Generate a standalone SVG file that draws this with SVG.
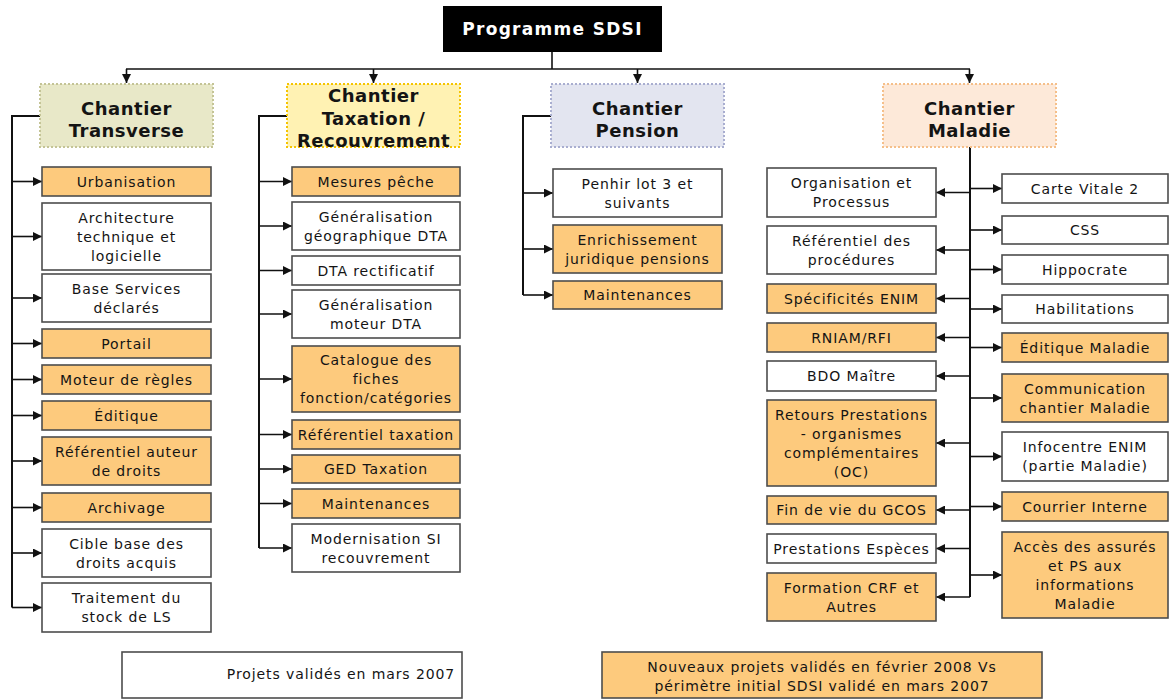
<svg xmlns="http://www.w3.org/2000/svg" width="1170" height="699" viewBox="0 0 1170 699">
<style>
.t{font-family:"DejaVu Sans",Verdana,sans-serif;font-size:14px;letter-spacing:0.9px;text-anchor:middle;fill:#141414}
.h{font-family:"DejaVu Sans",Verdana,sans-serif;font-size:18px;font-weight:bold;letter-spacing:0.5px;text-anchor:middle;fill:#141414}
.w{fill:#ffffff;stroke:#4d4d4d;stroke-width:1.6}
.o{fill:#fdca7d;stroke:#4d4d4d;stroke-width:1.6}
.c line,.c polyline{stroke:#111;stroke-width:1.6;fill:none}
.c .b{stroke-width:2}
</style>
<defs>
<marker id="a" markerUnits="userSpaceOnUse" markerWidth="9" markerHeight="9" refX="9" refY="4.5" orient="auto">
<path d="M0,0 L9,4.5 L0,9 z" fill="#111"/>
</marker>
</defs>
<rect width="1170" height="699" fill="#ffffff"/>

<g id="connectors" class="c">
<line x1="552" y1="52" x2="552" y2="69"/>
<line x1="126" y1="69" x2="970" y2="69"/>
<line x1="126.5" y1="69" x2="126.5" y2="83" marker-end="url(#a)"/>
<line x1="373.5" y1="69" x2="373.5" y2="83" marker-end="url(#a)"/>
<line x1="637.5" y1="69" x2="637.5" y2="83" marker-end="url(#a)"/>
<line x1="969.5" y1="69" x2="969.5" y2="83" marker-end="url(#a)"/>
<polyline class="b" points="40,116 12,116 12,607.5"/>
<line x1="12" y1="181.5" x2="42" y2="181.5" marker-end="url(#a)"/>
<line x1="12" y1="236.5" x2="42" y2="236.5" marker-end="url(#a)"/>
<line x1="12" y1="298" x2="42" y2="298" marker-end="url(#a)"/>
<line x1="12" y1="343.5" x2="42" y2="343.5" marker-end="url(#a)"/>
<line x1="12" y1="379.5" x2="42" y2="379.5" marker-end="url(#a)"/>
<line x1="12" y1="415.5" x2="42" y2="415.5" marker-end="url(#a)"/>
<line x1="12" y1="461" x2="42" y2="461" marker-end="url(#a)"/>
<line x1="12" y1="507.5" x2="42" y2="507.5" marker-end="url(#a)"/>
<line x1="12" y1="553" x2="42" y2="553" marker-end="url(#a)"/>
<line x1="12" y1="607.5" x2="42" y2="607.5" marker-end="url(#a)"/>
<polyline class="b" points="287,116 259,116 259,548"/>
<line x1="259" y1="181.5" x2="292" y2="181.5" marker-end="url(#a)"/>
<line x1="259" y1="226" x2="292" y2="226" marker-end="url(#a)"/>
<line x1="259" y1="270.5" x2="292" y2="270.5" marker-end="url(#a)"/>
<line x1="259" y1="314" x2="292" y2="314" marker-end="url(#a)"/>
<line x1="259" y1="379" x2="292" y2="379" marker-end="url(#a)"/>
<line x1="259" y1="434.5" x2="292" y2="434.5" marker-end="url(#a)"/>
<line x1="259" y1="469" x2="292" y2="469" marker-end="url(#a)"/>
<line x1="259" y1="503.5" x2="292" y2="503.5" marker-end="url(#a)"/>
<line x1="259" y1="548" x2="292" y2="548" marker-end="url(#a)"/>
<polyline class="b" points="551,116 523,116 523,295"/>
<line x1="523" y1="193" x2="553" y2="193" marker-end="url(#a)"/>
<line x1="523" y1="249" x2="553" y2="249" marker-end="url(#a)"/>
<line x1="523" y1="295" x2="553" y2="295" marker-end="url(#a)"/>
<line class="b" x1="970" y1="147" x2="970" y2="597"/>
<line x1="970" y1="192.5" x2="936" y2="192.5" marker-end="url(#a)"/>
<line x1="970" y1="250" x2="936" y2="250" marker-end="url(#a)"/>
<line x1="970" y1="298.5" x2="936" y2="298.5" marker-end="url(#a)"/>
<line x1="970" y1="337.5" x2="936" y2="337.5" marker-end="url(#a)"/>
<line x1="970" y1="376" x2="936" y2="376" marker-end="url(#a)"/>
<line x1="970" y1="443" x2="936" y2="443" marker-end="url(#a)"/>
<line x1="970" y1="510" x2="936" y2="510" marker-end="url(#a)"/>
<line x1="970" y1="548.5" x2="936" y2="548.5" marker-end="url(#a)"/>
<line x1="970" y1="597" x2="936" y2="597" marker-end="url(#a)"/>
<line x1="970" y1="188.5" x2="1002" y2="188.5" marker-end="url(#a)"/>
<line x1="970" y1="230" x2="1002" y2="230" marker-end="url(#a)"/>
<line x1="970" y1="269.5" x2="1002" y2="269.5" marker-end="url(#a)"/>
<line x1="970" y1="309" x2="1002" y2="309" marker-end="url(#a)"/>
<line x1="970" y1="347.5" x2="1002" y2="347.5" marker-end="url(#a)"/>
<line x1="970" y1="398" x2="1002" y2="398" marker-end="url(#a)"/>
<line x1="970" y1="456.5" x2="1002" y2="456.5" marker-end="url(#a)"/>
<line x1="970" y1="506.5" x2="1002" y2="506.5" marker-end="url(#a)"/>
<line x1="970" y1="575" x2="1002" y2="575" marker-end="url(#a)"/>
</g>

<g id="programme">
<rect x="443" y="6" width="219" height="46" fill="#000"/>
<text x="552.5" y="35" style="font-family:'DejaVu Sans',Verdana,sans-serif;font-size:17px;font-weight:bold;letter-spacing:1.3px;text-anchor:middle;fill:#fff">Programme SDSI</text>
</g>

<g id="chantier-transverse">
<rect x="40" y="84" width="173" height="63" fill="#e8e8c8" stroke="#c4c496" stroke-width="2" stroke-dasharray="2,2"/>
<text class="h" x="126.5" y="115">Chantier</text>
<text class="h" x="126.5" y="137">Transverse</text>
</g>
<g id="chantier-taxation">
<rect x="287" y="84" width="173" height="63" fill="#fff2b3" stroke="#f5c400" stroke-width="2" stroke-dasharray="2,2"/>
<text class="h" x="373.5" y="102">Chantier</text>
<text class="h" x="373.5" y="125">Taxation /</text>
<text class="h" x="373.5" y="147">Recouvrement</text>
</g>
<g id="chantier-pension">
<rect x="551" y="84" width="173" height="63" fill="#e3e5f0" stroke="#a9aed0" stroke-width="2" stroke-dasharray="2,2"/>
<text class="h" x="637.5" y="115">Chantier</text>
<text class="h" x="637.5" y="137">Pension</text>
</g>
<g id="chantier-maladie">
<rect x="883" y="84" width="173" height="63" fill="#fde9d9" stroke="#f5bf8a" stroke-width="2" stroke-dasharray="2,2"/>
<text class="h" x="969.5" y="115">Chantier</text>
<text class="h" x="969.5" y="137">Maladie</text>
</g>

<!-- Transverse -->
<g id="urbanisation"><rect class="o" x="42" y="167" width="169" height="29"/><text class="t" x="126.5" y="186.5">Urbanisation</text></g>
<g id="architecture"><rect class="w" x="42" y="203" width="169" height="67"/><text class="t" x="126.5" y="222.5">Architecture</text><text class="t" x="126.5" y="241.5">technique et</text><text class="t" x="126.5" y="260.5">logicielle</text></g>
<g id="base-services"><rect class="w" x="42" y="274" width="169" height="48"/><text class="t" x="126.5" y="293.5">Base Services</text><text class="t" x="126.5" y="312.5">déclarés</text></g>
<g id="portail"><rect class="o" x="42" y="329" width="169" height="29"/><text class="t" x="126.5" y="348.5">Portail</text></g>
<g id="moteur-regles"><rect class="o" x="42" y="365" width="169" height="29"/><text class="t" x="126.5" y="384.5">Moteur de règles</text></g>
<g id="editique"><rect class="o" x="42" y="401" width="169" height="29"/><text class="t" x="126.5" y="420.5">Éditique</text></g>
<g id="referentiel-auteur"><rect class="o" x="42" y="437" width="169" height="48"/><text class="t" x="126.5" y="456.5">Référentiel auteur</text><text class="t" x="126.5" y="475.5">de droits</text></g>
<g id="archivage"><rect class="o" x="42" y="493" width="169" height="29"/><text class="t" x="126.5" y="512.5">Archivage</text></g>
<g id="cible-base"><rect class="w" x="42" y="529" width="169" height="48"/><text class="t" x="126.5" y="548.5">Cible base des</text><text class="t" x="126.5" y="567.5">droits acquis</text></g>
<g id="traitement-stock"><rect class="w" x="42" y="583" width="169" height="49"/><text class="t" x="126.5" y="603">Traitement du</text><text class="t" x="126.5" y="622">stock de LS</text></g>

<!-- Taxation -->
<g id="mesures-peche"><rect class="o" x="292" y="167" width="168" height="29"/><text class="t" x="376" y="186.5">Mesures pêche</text></g>
<g id="gen-geo-dta"><rect class="w" x="292" y="202" width="168" height="48"/><text class="t" x="376" y="221.5">Généralisation</text><text class="t" x="376" y="240.5">géographique DTA</text></g>
<g id="dta-rectificatif"><rect class="w" x="292" y="256" width="168" height="29"/><text class="t" x="376" y="275.5">DTA rectificatif</text></g>
<g id="gen-moteur-dta"><rect class="w" x="292" y="290" width="168" height="48"/><text class="t" x="376" y="309.5">Généralisation</text><text class="t" x="376" y="328.5">moteur DTA</text></g>
<g id="catalogue-fiches"><rect class="o" x="292" y="346" width="168" height="66"/><text class="t" x="376" y="365">Catalogue des</text><text class="t" x="376" y="384">fiches</text><text class="t" x="376" y="403">fonction/catégories</text></g>
<g id="referentiel-taxation"><rect class="o" x="292" y="420" width="168" height="29"/><text class="t" x="376" y="439.5">Référentiel taxation</text></g>
<g id="ged-taxation"><rect class="o" x="292" y="455" width="168" height="28"/><text class="t" x="376" y="474">GED Taxation</text></g>
<g id="maintenances-tax"><rect class="o" x="292" y="489" width="168" height="29"/><text class="t" x="376" y="508.5">Maintenances</text></g>
<g id="modernisation-si"><rect class="w" x="292" y="524" width="168" height="48"/><text class="t" x="376" y="543.5">Modernisation SI</text><text class="t" x="376" y="562.5">recouvrement</text></g>

<!-- Pension -->
<g id="penhir"><rect class="w" x="553" y="169" width="169" height="48"/><text class="t" x="637.5" y="188.5">Penhir lot 3 et</text><text class="t" x="637.5" y="207.5">suivants</text></g>
<g id="enrichissement"><rect class="o" x="553" y="225" width="169" height="48"/><text class="t" x="637.5" y="244.5">Enrichissement</text><text class="t" x="637.5" y="263.5">juridique pensions</text></g>
<g id="maintenances-pen"><rect class="o" x="553" y="281" width="169" height="28"/><text class="t" x="637.5" y="300">Maintenances</text></g>

<!-- Maladie left -->
<g id="organisation"><rect class="w" x="767" y="168" width="169" height="49"/><text class="t" x="851.5" y="188">Organisation et</text><text class="t" x="851.5" y="207">Processus</text></g>
<g id="referentiel-procedures"><rect class="w" x="767" y="226" width="169" height="48"/><text class="t" x="851.5" y="245.5">Référentiel des</text><text class="t" x="851.5" y="264.5">procédures</text></g>
<g id="specificites-enim"><rect class="o" x="767" y="284" width="169" height="29"/><text class="t" x="851.5" y="303.5">Spécificités ENIM</text></g>
<g id="rniam"><rect class="o" x="767" y="323" width="169" height="29"/><text class="t" x="851.5" y="342.5">RNIAM/RFI</text></g>
<g id="bdo-maitre"><rect class="w" x="767" y="361" width="169" height="30"/><text class="t" x="851.5" y="381">BDO Maître</text></g>
<g id="retours-prestations"><rect class="o" x="767" y="400" width="169" height="86"/><text class="t" x="851.5" y="419.5">Retours Prestations</text><text class="t" x="851.5" y="438.5">- organismes</text><text class="t" x="851.5" y="457.5">complémentaires</text><text class="t" x="851.5" y="476.5">(OC)</text></g>
<g id="fin-gcos"><rect class="o" x="767" y="496" width="169" height="28"/><text class="t" x="851.5" y="515">Fin de vie du GCOS</text></g>
<g id="prestations-especes"><rect class="w" x="767" y="534" width="169" height="29"/><text class="t" x="851.5" y="553.5">Prestations Espèces</text></g>
<g id="formation-crf"><rect class="o" x="767" y="573" width="169" height="48"/><text class="t" x="851.5" y="592.5">Formation CRF et</text><text class="t" x="851.5" y="611.5">Autres</text></g>

<!-- Maladie right -->
<g id="carte-vitale"><rect class="w" x="1002" y="174" width="166" height="29"/><text class="t" x="1085" y="193.5">Carte Vitale 2</text></g>
<g id="css"><rect class="w" x="1002" y="216" width="166" height="28"/><text class="t" x="1085" y="235">CSS</text></g>
<g id="hippocrate"><rect class="w" x="1002" y="255" width="166" height="29"/><text class="t" x="1085" y="274.5">Hippocrate</text></g>
<g id="habilitations"><rect class="w" x="1002" y="295" width="166" height="28"/><text class="t" x="1085" y="314">Habilitations</text></g>
<g id="editique-maladie"><rect class="o" x="1002" y="333" width="166" height="29"/><text class="t" x="1085" y="352.5">Éditique Maladie</text></g>
<g id="communication"><rect class="o" x="1002" y="374" width="166" height="48"/><text class="t" x="1085" y="393.5">Communication</text><text class="t" x="1085" y="412.5">chantier Maladie</text></g>
<g id="infocentre"><rect class="w" x="1002" y="432" width="166" height="49"/><text class="t" x="1085" y="452">Infocentre ENIM</text><text class="t" x="1085" y="471">(partie Maladie)</text></g>
<g id="courrier-interne"><rect class="o" x="1002" y="492" width="166" height="29"/><text class="t" x="1085" y="511.5">Courrier Interne</text></g>
<g id="acces-assures"><rect class="o" x="1002" y="532" width="166" height="86"/><text class="t" x="1085" y="551.5">Accès des assurés</text><text class="t" x="1085" y="570.5">et PS aux</text><text class="t" x="1085" y="589.5">informations</text><text class="t" x="1085" y="608.5">Maladie</text></g>

<!-- Legend -->
<g id="legend-2007"><rect class="w" x="122" y="652" width="340" height="46"/><text class="t" x="341" y="679">Projets validés en mars 2007</text></g>
<g id="legend-2008"><rect class="o" x="602" y="652" width="440" height="46"/><text class="t" x="822" y="672">Nouveaux projets validés en février 2008 Vs</text><text class="t" x="822" y="691">périmètre initial SDSI validé en mars 2007</text></g>
</svg>
